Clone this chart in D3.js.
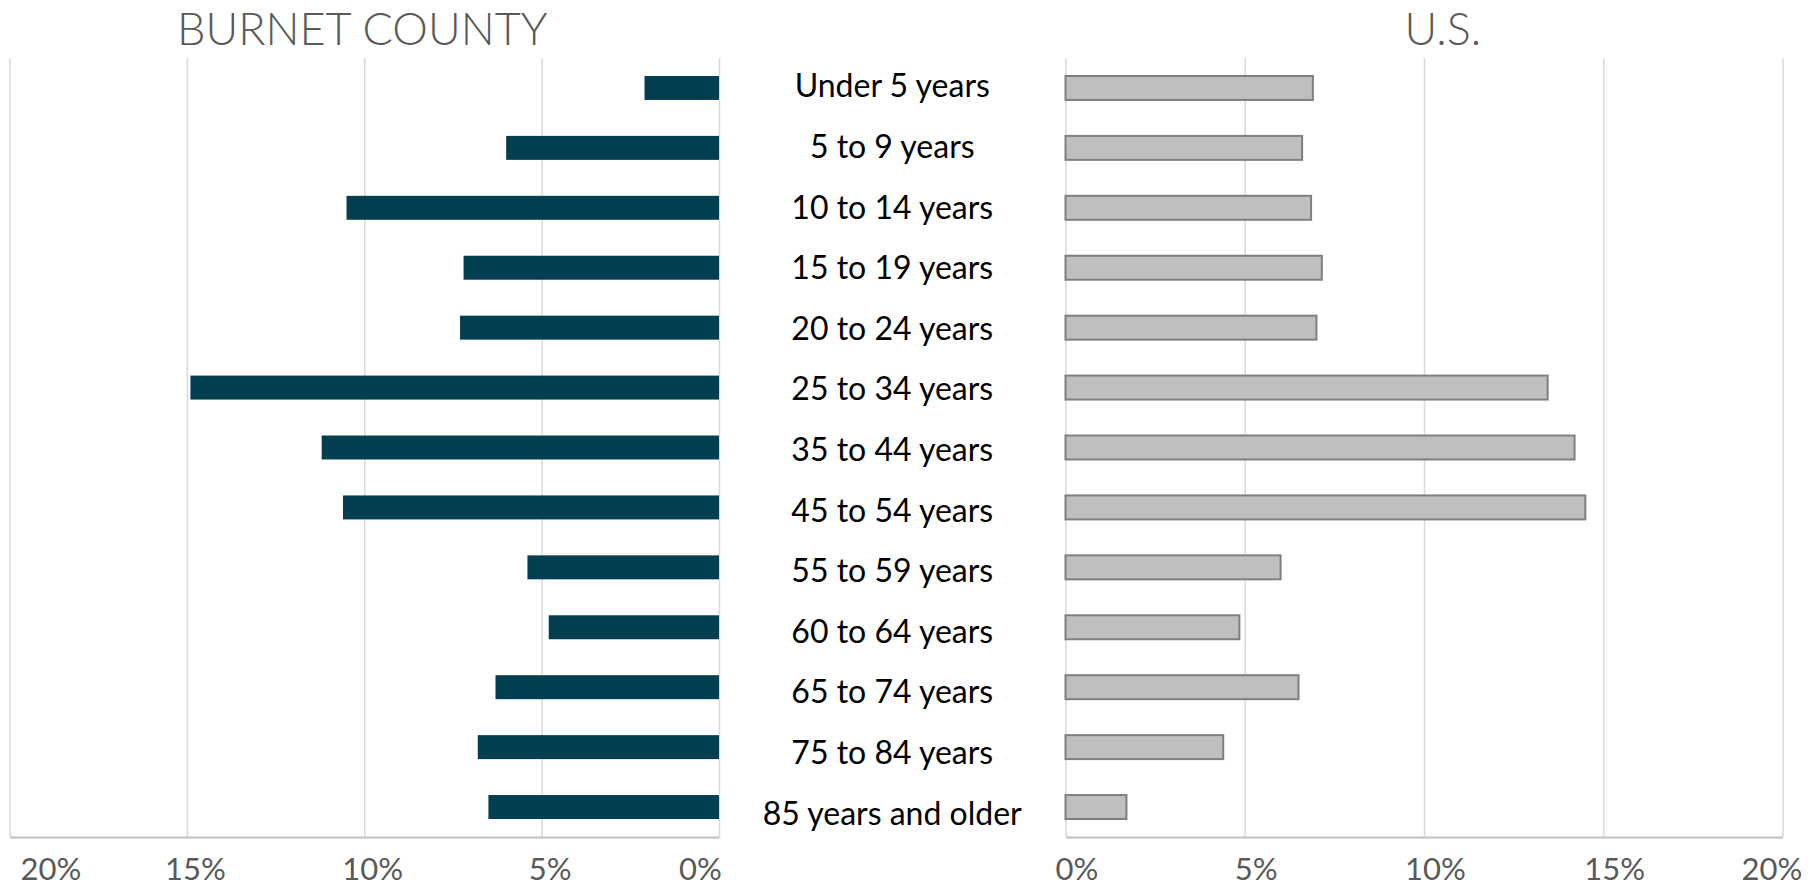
<!DOCTYPE html>
<html>
<head>
<meta charset="utf-8">
<script src="https://cdnjs.cloudflare.com/ajax/libs/d3/7.8.5/d3.min.js"></script>
<style>
    body { margin: 0; background: #fff; }
    svg { display: block; }
</style>
</head>
<body>
<svg width="1818" height="889"></svg>
<script>

// age groups, top to bottom
const ageGroups = [
    "Under 5 years", "5 to 9 years", "10 to 14 years", "15 to 19 years",
    "20 to 24 years", "25 to 34 years", "35 to 44 years", "45 to 54 years",
    "55 to 59 years", "60 to 64 years", "65 to 74 years", "75 to 84 years",
    "85 years and older"
];

// share of population (%)
const burnetPct = [2.1, 6.0, 10.5, 7.2, 7.3, 14.9, 11.2, 10.6, 5.4, 4.8, 6.3, 6.8, 6.5];
const usPct     = [6.9, 6.6, 6.85, 7.15, 7.0, 13.45, 14.2, 14.5, 6.0, 4.85, 6.5, 4.4, 1.7];

const tickValues = [0, 5, 10, 15, 20];

const panelTitles = ["BURNET COUNTY", "U.S."];

var svg = d3.select("svg"),
    width = +svg.attr("width"),
    height = +svg.attr("height");

var plotTop = 58,
    plotBottom = 837;

// left chart grows to the left, right chart to the right
var xLeft = d3.scaleLinear().domain([0, 20]).range([719, 9.5]);
var xRight = d3.scaleLinear().domain([0, 20]).range([1065.5, 1782.5]);

var y = d3.scaleBand()
    .domain(ageGroups)
    .range([plotTop, plotBottom])
    .paddingInner(0.6)
    .paddingOuter(0.3);

// the category labels sit on a slightly taller band
var yLabel = d3.scaleBand()
    .domain(ageGroups)
    .range([56, 844]);

var font = "Lato, 'Open Sans', sans-serif";

function drawPanel(x, values, title, side) {
    var g = svg.append("g").attr("class", "panel-" + side);

    // gridlines
    g.append("g")
        .attr("class", "grid")
        .attr("transform", "translate(0," + plotBottom + ")")
        .call(d3.axisBottom(x)
            .tickValues(tickValues)
            .tickSize(-(plotBottom - plotTop))
            .tickFormat(""))
        .call(a => a.select(".domain").remove())
        .call(a => a.selectAll("line")
            .attr("stroke", "#d9d9d9")
            .attr("stroke-width", 1.5));

    // bars
    var bars = g.append("g")
        .selectAll("rect")
        .data(values)
        .enter().append("rect")
        .attr("y", (d, i) => y(ageGroups[i]))
        .attr("height", y.bandwidth())
        .attr("x", d => Math.min(x(0), x(d)))
        .attr("width", d => Math.abs(x(d) - x(0)));

    if (side == "left") {
        bars.attr("fill", "#033e51");
    } else {
        bars.attr("fill", "#bfbfbf")
            .attr("stroke", "#7f7f7f")
            .attr("stroke-width", 2);
    }

    // axis line and tick labels
    var axis = g.append("g")
        .attr("class", "axis")
        .attr("transform", "translate(0," + plotBottom + ")")
        .call(d3.axisBottom(x)
            .tickValues(tickValues)
            .tickSize(0)
            .tickSizeOuter(0)
            .tickPadding(0)
            .tickFormat(d => d + "%"));

    axis.select(".domain")
        .attr("stroke", "#bfbfbf")
        .attr("stroke-width", 2);

    axis.selectAll("text")
        .attr("y", 43)
        .attr("dy", null)
        .attr("fill", "#595959")
        .style("font-family", font)
        .style("font-size", "31px")
        .attr("dx", d => labelShift(side, d));

    // panel title
    var r = x.range();
    g.append("text")
        .attr("x", (r[0] + r[1]) / 2 + (side == "left" ? -2 : 19))
        .attr("y", 45)
        .attr("text-anchor", "middle")
        .attr("fill", "#595959")
        .style("font-family", font)
        .style("font-weight", 300)
        .style("font-size", "45px")
        .text(title);
}

// Excel nudges the value labels; the outer ones are pulled inside the chart
function labelShift(side, d) {
    if (side == "left") {
        if (d == 20) return 41;
        if (d == 0) return -19;
        return 8;
    }
    if (d == 20) return -11;
    return 11;
}

drawPanel(xLeft, burnetPct, panelTitles[0], "left");
drawPanel(xRight, usPct, panelTitles[1], "right");

// age group labels between the two charts
svg.append("g")
    .attr("class", "categories")
    .selectAll("text")
    .data(ageGroups)
    .enter().append("text")
    .attr("x", (xLeft(0) + xRight(0)) / 2)
    .attr("y", d => yLabel(d) + yLabel.bandwidth() / 2 + 11)
    .attr("text-anchor", "middle")
    .attr("fill", "#000")
    .style("font-family", font)
    .style("font-size", "32px")
    .text(d => d);

</script>
</body>
</html>
